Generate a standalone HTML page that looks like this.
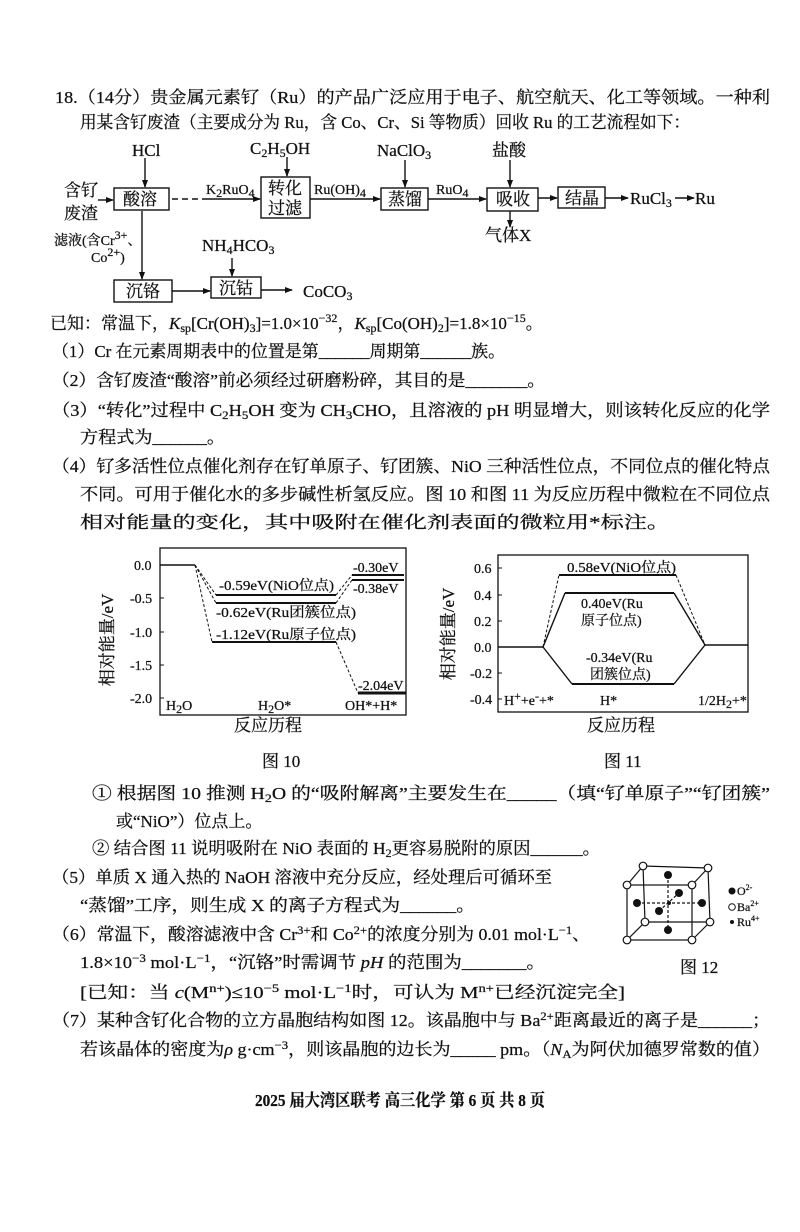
<!DOCTYPE html>
<html><head><meta charset="utf-8"><style>
html,body{margin:0;padding:0;background:#fff;}
svg{display:block;}
text{font-family:"Liberation Serif","Noto Serif CJK SC",serif;fill:#111;stroke:#111;stroke-width:0.25;}
.t{font-size:17px;}
.s{font-size:14px;}
.sm{font-size:12px;}
</style></head><body>
<svg width="800" height="1232" viewBox="0 0 800 1232" xmlns="http://www.w3.org/2000/svg">
<defs>
<marker id="a" markerWidth="8" markerHeight="6" refX="7" refY="3" orient="auto" markerUnits="userSpaceOnUse"><path d="M0,0 L8,3 L0,6 Z" fill="#111"/></marker>
</defs>
<rect width="800" height="1232" fill="#fff"/>

<text class="t" x="55" y="103" textLength="715" lengthAdjust="spacingAndGlyphs">18.（14分）贵金属元素钌（Ru）的产品广泛应用于电子、航空航天、化工等领域。一种利</text>
<text class="t" x="80" y="128" textLength="610" lengthAdjust="spacingAndGlyphs">用某含钌废渣（主要成分为 Ru，含 Co、Cr、Si 等物质）回收 Ru 的工艺流程如下：</text>

<g stroke="#111" stroke-width="1.4" fill="none">
<rect x="114" y="188" width="55" height="22"/>
<rect x="261" y="177" width="49" height="41"/>
<rect x="381" y="188" width="47" height="22"/>
<rect x="487" y="188" width="51" height="23"/>
<rect x="558" y="187" width="47" height="21"/>
<rect x="114" y="280" width="58" height="22"/>
<rect x="211" y="277" width="50" height="21"/>
<line x1="145" y1="158" x2="145" y2="187" marker-end="url(#a)"/>
<line x1="98" y1="200" x2="113" y2="200" marker-end="url(#a)"/>
<line x1="172" y1="199" x2="204" y2="199" stroke-dasharray="6,4"/>
<line x1="204" y1="199" x2="260" y2="199" marker-end="url(#a)"/>
<line x1="287" y1="157" x2="287" y2="176" marker-end="url(#a)"/>
<line x1="310" y1="199" x2="380" y2="199" marker-end="url(#a)"/>
<line x1="405" y1="160" x2="405" y2="187" marker-end="url(#a)"/>
<line x1="428" y1="199" x2="486" y2="199" marker-end="url(#a)"/>
<line x1="510" y1="160" x2="510" y2="187" marker-end="url(#a)"/>
<line x1="510" y1="211" x2="510" y2="227" marker-end="url(#a)"/>
<line x1="538" y1="198" x2="557" y2="198" marker-end="url(#a)"/>
<line x1="605" y1="198" x2="628" y2="198" marker-end="url(#a)"/>
<line x1="675" y1="198" x2="694" y2="198" marker-end="url(#a)"/>
<line x1="142" y1="211" x2="142" y2="279" marker-end="url(#a)"/>
<line x1="172" y1="291" x2="210" y2="291" marker-end="url(#a)"/>
<line x1="232" y1="258" x2="232" y2="276" marker-end="url(#a)"/>
<line x1="261" y1="290" x2="292" y2="290" marker-end="url(#a)"/>
</g>
<text class="t" x="132" y="156">HCl</text>
<text class="t" x="64" y="196">含钌</text>
<text class="t" x="64" y="219">废渣</text>
<text class="t" x="123" y="205">酸溶</text>
<text class="s" x="206" y="194">K<tspan class="sm" dy="3">2</tspan><tspan dy="-3">RuO</tspan><tspan class="sm" dy="3">4</tspan></text>
<text class="t" x="250" y="154">C<tspan class="sm" dy="3">2</tspan><tspan dy="-3">H</tspan><tspan class="sm" dy="3">5</tspan><tspan dy="-3">OH</tspan></text>
<text class="t" x="268" y="194">转化</text>
<text class="t" x="268" y="214">过滤</text>
<text class="s" x="314" y="194">Ru(OH)<tspan class="sm" dy="3">4</tspan></text>
<text class="t" x="377" y="156">NaClO<tspan class="sm" dy="3">3</tspan></text>
<text class="t" x="388" y="205">蒸馏</text>
<text class="s" x="436" y="194">RuO<tspan class="sm" dy="3">4</tspan></text>
<text class="t" x="492" y="156">盐酸</text>
<text class="t" x="496" y="205">吸收</text>
<text class="t" x="485" y="241">气体X</text>
<text class="t" x="565" y="204">结晶</text>
<text class="t" x="630" y="204">RuCl<tspan class="sm" dy="3">3</tspan></text>
<text class="t" x="695" y="204">Ru</text>
<text class="s" x="54" y="245">滤液(含Cr<tspan class="sm" dy="-6">3+</tspan><tspan dy="6">、</tspan></text>
<text class="s" x="91" y="262">Co<tspan class="sm" dy="-6">2+</tspan><tspan dy="6">)</tspan></text>
<text class="t" x="202" y="251">NH<tspan class="sm" dy="3">4</tspan><tspan dy="-3">HCO</tspan><tspan class="sm" dy="3">3</tspan></text>
<text class="t" x="126" y="297">沉铬</text>
<text class="t" x="219" y="294">沉钴</text>
<text class="t" x="303" y="297">CoCO<tspan class="sm" dy="3">3</tspan></text>

<text class="t" x="50" y="329">已知：常温下，<tspan font-style="italic">K</tspan><tspan class="sm" dy="3">sp</tspan><tspan dy="-3">[Cr(OH)</tspan><tspan class="sm" dy="3">3</tspan><tspan dy="-3">]=1.0×10</tspan><tspan class="sm" dy="-7">−32</tspan><tspan dy="7">，</tspan><tspan font-style="italic">K</tspan><tspan class="sm" dy="3">sp</tspan><tspan dy="-3">[Co(OH)</tspan><tspan class="sm" dy="3">2</tspan><tspan dy="-3">]=1.8×10</tspan><tspan class="sm" dy="-7">−15</tspan><tspan dy="7">。</tspan></text>
<text class="t" x="52" y="357" textLength="453" lengthAdjust="spacingAndGlyphs">（1）Cr 在元素周期表中的位置是第______周期第______族。</text>
<text class="t" x="52" y="386" textLength="493" lengthAdjust="spacingAndGlyphs">（2）含钌废渣“酸溶”前必须经过研磨粉碎，其目的是_______。</text>
<text class="t" x="52" y="416" textLength="718" lengthAdjust="spacingAndGlyphs">（3）“转化”过程中 C<tspan class="sm" dy="3">2</tspan><tspan dy="-3">H</tspan><tspan class="sm" dy="3">5</tspan><tspan dy="-3">OH 变为 CH</tspan><tspan class="sm" dy="3">3</tspan><tspan dy="-3">CHO，且溶液的 pH 明显增大，则该转化反应的化学</tspan></text>
<text class="t" x="80" y="443" textLength="145" lengthAdjust="spacingAndGlyphs">方程式为______。</text>
<text class="t" x="52" y="472" textLength="718" lengthAdjust="spacingAndGlyphs">（4）钌多活性位点催化剂存在钌单原子、钌团簇、NiO 三种活性位点，不同位点的催化特点</text>
<text class="t" x="80" y="500" textLength="690" lengthAdjust="spacingAndGlyphs">不同。可用于催化水的多步碱性析氢反应。图 10 和图 11 为反应历程中微粒在不同位点</text>
<text class="t" x="80" y="528" textLength="590" lengthAdjust="spacingAndGlyphs">相对能量的变化，其中吸附在催化剂表面的微粒用*标注。</text>

<g stroke="#111" fill="none">
<rect x="160" y="548" width="246" height="167" stroke-width="1.3"/>
<g stroke-width="1"><line x1="160" y1="565" x2="164" y2="565"/><line x1="160" y1="598" x2="164" y2="598"/><line x1="160" y1="632" x2="164" y2="632"/><line x1="160" y1="665" x2="164" y2="665"/><line x1="160" y1="698" x2="164" y2="698"/></g>
<line x1="160" y1="565" x2="195" y2="565" stroke-width="1.6"/>
<g stroke-dasharray="3,2" stroke-width="1">
<line x1="195" y1="565" x2="216" y2="595"/><line x1="195" y1="565" x2="216" y2="603"/><line x1="195" y1="565" x2="212" y2="642"/>
<line x1="336" y1="595" x2="352" y2="575"/><line x1="336" y1="603" x2="352" y2="580"/><line x1="336" y1="642" x2="358" y2="693"/>
</g>
<g stroke-width="2">
<line x1="216" y1="595" x2="336" y2="595"/><line x1="216" y1="603" x2="336" y2="603"/><line x1="212" y1="642" x2="336" y2="642"/>
<line x1="352" y1="575" x2="404" y2="575"/><line x1="352" y1="580" x2="404" y2="580"/>
<line x1="358" y1="693" x2="406" y2="693" stroke-width="3"/>
</g>
</g>
<text class="s" x="134" y="570">0.0</text><text class="s" x="130" y="603">-0.5</text><text class="s" x="130" y="637">-1.0</text><text class="s" x="130" y="670">-1.5</text><text class="s" x="130" y="703">-2.0</text>
<text class="s" x="219" y="590" textLength="115" lengthAdjust="spacingAndGlyphs">-0.59eV(NiO位点)</text>
<text class="s" x="216" y="617" textLength="140" lengthAdjust="spacingAndGlyphs">-0.62eV(Ru团簇位点)</text>
<text class="s" x="216" y="639" textLength="140" lengthAdjust="spacingAndGlyphs">-1.12eV(Ru原子位点)</text>
<text class="s" x="353" y="572">-0.30eV</text><text class="s" x="353" y="593">-0.38eV</text><text class="s" x="358" y="690">-2.04eV</text>
<text class="s" x="166" y="710">H<tspan class="sm" dy="3">2</tspan><tspan dy="-3">O</tspan></text>
<text class="s" x="258" y="710">H<tspan class="sm" dy="3">2</tspan><tspan dy="-3">O*</tspan></text>
<text class="s" x="345" y="710">OH*+H*</text>
<text class="t" x="234" y="731">反应历程</text>
<text class="t" transform="translate(113,640) rotate(-90)" text-anchor="middle">相对能量/eV</text>
<text class="t" x="262" y="767">图 10</text>

<g stroke="#111" fill="none">
<rect x="498" y="555" width="250" height="157" stroke-width="1.3"/>
<g stroke-width="1"><line x1="498" y1="568" x2="502" y2="568"/><line x1="498" y1="595" x2="502" y2="595"/><line x1="498" y1="621" x2="502" y2="621"/><line x1="498" y1="647" x2="502" y2="647"/><line x1="498" y1="673" x2="502" y2="673"/><line x1="498" y1="699" x2="502" y2="699"/></g>
<line x1="498" y1="647" x2="543" y2="647" stroke-width="1.6"/>
<line x1="705" y1="645" x2="748" y2="645" stroke-width="1.6"/>
<g stroke-dasharray="3,2" stroke-width="1">
<line x1="543" y1="647" x2="559" y2="575"/><line x1="676" y1="575" x2="705" y2="645"/>
</g>
<g stroke-width="1.4">
<line x1="543" y1="647" x2="565" y2="593"/><line x1="674" y1="593" x2="705" y2="645"/>
<line x1="543" y1="647" x2="572" y2="684"/><line x1="674" y1="684" x2="705" y2="645"/>
</g>
<g stroke-width="2">
<line x1="559" y1="575" x2="676" y2="575"/><line x1="565" y1="593" x2="674" y2="593"/><line x1="572" y1="684" x2="674" y2="684"/>
</g>
</g>
<text class="s" x="474" y="573">0.6</text><text class="s" x="474" y="600">0.4</text><text class="s" x="474" y="626">0.2</text><text class="s" x="474" y="652">0.0</text><text class="s" x="470" y="678">-0.2</text><text class="s" x="470" y="704">-0.4</text>
<text class="s" x="567" y="572" textLength="109" lengthAdjust="spacingAndGlyphs">0.58eV(NiO位点)</text>
<text class="s" x="581" y="608">0.40eV(Ru</text><text class="s" x="581" y="625">原子位点)</text>
<text class="s" x="586" y="662">-0.34eV(Ru</text><text class="s" x="590" y="679">团簇位点)</text>
<text class="s" x="504" y="705">H<tspan class="sm" dy="-5">+</tspan><tspan dy="5">+e</tspan><tspan class="sm" dy="-5">-</tspan><tspan dy="5">+*</tspan></text>
<text class="s" x="600" y="705">H*</text>
<text class="s" x="698" y="705">1/2H<tspan class="sm" dy="3">2</tspan><tspan dy="-3">+*</tspan></text>
<text class="t" x="587" y="731">反应历程</text>
<text class="t" transform="translate(454,634) rotate(-90)" text-anchor="middle">相对能量/eV</text>
<text class="t" x="604" y="767">图 11</text>

<text class="t" x="92" y="799" textLength="678" lengthAdjust="spacingAndGlyphs">① 根据图 10 推测 H<tspan class="sm" dy="3">2</tspan><tspan dy="-3">O 的“吸附解离”主要发生在_____（填“钌单原子”“钌团簇”</tspan></text>
<text class="t" x="116" y="827">或“NiO”）位点上。</text>
<text class="t" x="92" y="854" textLength="508" lengthAdjust="spacingAndGlyphs">② 结合图 11 说明吸附在 NiO 表面的 H<tspan class="sm" dy="3">2</tspan><tspan dy="-3">更容易脱附的原因______。</tspan></text>
<text class="t" x="52" y="883" textLength="500" lengthAdjust="spacingAndGlyphs">（5）单质 X 通入热的 NaOH 溶液中充分反应，经处理后可循环至</text>
<text class="t" x="80" y="911" textLength="395" lengthAdjust="spacingAndGlyphs">“蒸馏”工序，则生成 X 的离子方程式为______。</text>
<text class="t" x="52" y="940" textLength="538" lengthAdjust="spacingAndGlyphs">（6）常温下，酸溶滤液中含 Cr<tspan class="sm" dy="-6">3+</tspan><tspan dy="6">和 Co</tspan><tspan class="sm" dy="-6">2+</tspan><tspan dy="6">的浓度分别为 0.01 mol·L</tspan><tspan class="sm" dy="-6">−1</tspan><tspan dy="6">、</tspan></text>
<text class="t" x="80" y="968" textLength="465" lengthAdjust="spacingAndGlyphs">1.8×10<tspan class="sm" dy="-6">−3</tspan><tspan dy="6"> mol·L</tspan><tspan class="sm" dy="-6">−1</tspan><tspan dy="6">，“沉铬”时需调节 </tspan><tspan font-style="italic">pH</tspan> 的范围为_______。</text>
<text class="t" x="80" y="998" textLength="545" lengthAdjust="spacingAndGlyphs">[已知：当 <tspan font-style="italic">c</tspan>(M<tspan class="sm" dy="-6">n+</tspan><tspan dy="6">)≤10</tspan><tspan class="sm" dy="-6">−5</tspan><tspan dy="6"> mol·L</tspan><tspan class="sm" dy="-6">−1</tspan><tspan dy="6">时，可认为 M</tspan><tspan class="sm" dy="-6">n+</tspan><tspan dy="6">已经沉淀完全]</tspan></text>
<text class="t" x="52" y="1026" textLength="718" lengthAdjust="spacingAndGlyphs">（7）某种含钌化合物的立方晶胞结构如图 12。该晶胞中与 Ba<tspan class="sm" dy="-6">2+</tspan><tspan dy="6">距离最近的离子是______；</tspan></text>
<text class="t" x="80" y="1055" textLength="690" lengthAdjust="spacingAndGlyphs">若该晶体的密度为<tspan font-style="italic">ρ</tspan> g·cm<tspan class="sm" dy="-6">−3</tspan><tspan dy="6">，则该晶胞的边长为_____ pm。（</tspan><tspan font-style="italic">N</tspan><tspan class="sm" dy="3">A</tspan><tspan dy="-3">为阿伏加德罗常数的值）</tspan></text>

<g stroke="#111" stroke-width="1.2" fill="none">
<rect x="627" y="885" width="65" height="55"/>
<polygon points="643,866 708,868 710,922 645,922"/>
<line x1="627" y1="885" x2="643" y2="866"/><line x1="692" y1="885" x2="708" y2="868"/><line x1="692" y1="940" x2="710" y2="922"/><line x1="627" y1="940" x2="645" y2="922"/>
<g stroke-dasharray="3,2"><line x1="668" y1="875" x2="668" y2="930"/><line x1="637" y1="903" x2="702" y2="903"/><line x1="659" y1="911" x2="679" y2="893"/></g>
</g>
<g fill="#111">
<circle cx="668" cy="875" r="4"/><circle cx="668" cy="930" r="4"/><circle cx="637" cy="903" r="4"/><circle cx="702" cy="903" r="4"/><circle cx="679" cy="893" r="4"/><circle cx="659" cy="911" r="4"/><circle cx="669" cy="903" r="2"/>
</g>
<g fill="#fff" stroke="#111" stroke-width="1.2">
<circle cx="627" cy="885" r="3.8"/><circle cx="692" cy="885" r="3.8"/><circle cx="692" cy="940" r="3.8"/><circle cx="627" cy="940" r="3.8"/>
<circle cx="643" cy="866" r="3.8"/><circle cx="708" cy="868" r="3.8"/><circle cx="710" cy="922" r="3.8"/><circle cx="645" cy="922" r="3.8"/>
</g>
<circle cx="732" cy="891" r="3.5" fill="#111"/><text class="sm" x="737" y="895">O<tspan font-size="8" dy="-5">2-</tspan></text>
<circle cx="732" cy="907" r="3.3" fill="#fff" stroke="#111"/><text class="sm" x="737" y="911">Ba<tspan font-size="8" dy="-5">2+</tspan></text>
<circle cx="732" cy="922" r="2" fill="#111"/><text class="sm" x="737" y="926">Ru<tspan font-size="8" dy="-5">4+</tspan></text>
<text class="t" x="680" y="973">图 12</text>

<text class="t" x="255" y="1106" font-weight="bold" textLength="290" lengthAdjust="spacingAndGlyphs">2025 届大湾区联考 高三化学 第 6 页 共 8 页</text>
</svg>
</body></html>
